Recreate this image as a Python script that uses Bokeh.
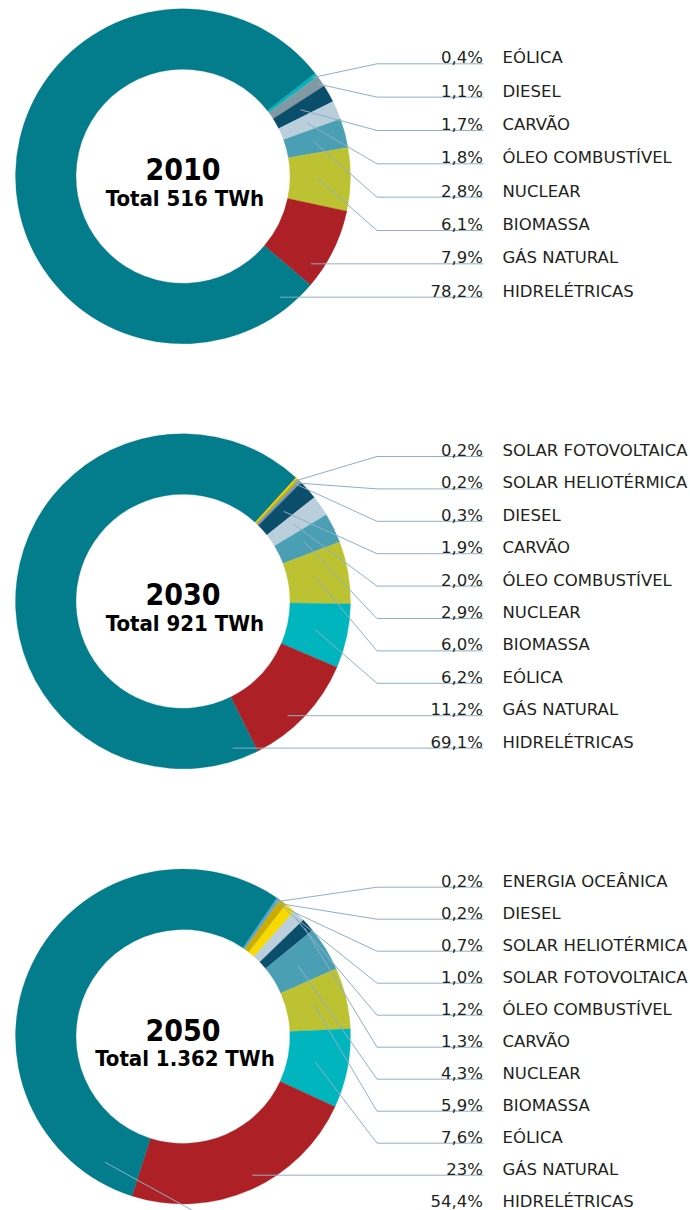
import math
from bokeh.plotting import figure
from bokeh.models import Range1d, ColumnDataSource
from bokeh.core.properties import value
from bokeh.embed import file_html
from bokeh.resources import INLINE

# ---------------- data ----------------
years = ["2010", "2030", "2050"]
totals = ["Total 516 TWh", "Total 921 TWh", "Total 1.362 TWh"]

labels_2010 = ["EÓLICA", "DIESEL", "CARVÃO", "ÓLEO COMBUSTÍVEL", "NUCLEAR",
               "BIOMASSA", "GÁS NATURAL", "HIDRELÉTRICAS"]
values_2010 = [0.4, 1.1, 1.7, 1.8, 2.8, 6.1, 7.9, 78.2]
pct_2010 = ["0,4%", "1,1%", "1,7%", "1,8%", "2,8%", "6,1%", "7,9%", "78,2%"]

labels_2030 = ["SOLAR FOTOVOLTAICA", "SOLAR HELIOTÉRMICA", "DIESEL", "CARVÃO",
               "ÓLEO COMBUSTÍVEL", "NUCLEAR", "BIOMASSA", "EÓLICA",
               "GÁS NATURAL", "HIDRELÉTRICAS"]
values_2030 = [0.2, 0.2, 0.3, 1.9, 2.0, 2.9, 6.0, 6.2, 11.2, 69.1]
pct_2030 = ["0,2%", "0,2%", "0,3%", "1,9%", "2,0%", "2,9%", "6,0%", "6,2%",
            "11,2%", "69,1%"]

labels_2050 = ["ENERGIA OCEÂNICA", "DIESEL", "SOLAR HELIOTÉRMICA",
               "SOLAR FOTOVOLTAICA", "ÓLEO COMBUSTÍVEL", "CARVÃO", "NUCLEAR",
               "BIOMASSA", "EÓLICA", "GÁS NATURAL", "HIDRELÉTRICAS"]
values_2050 = [0.2, 0.2, 0.7, 1.0, 1.2, 1.3, 4.3, 5.9, 7.6, 23, 54.4]
pct_2050 = ["0,2%", "0,2%", "0,7%", "1,0%", "1,2%", "1,3%", "4,3%", "5,9%",
            "7,6%", "23%", "54,4%"]

# ---------------- style ----------------
COLORS = {
    "HIDRELÉTRICAS": "#037c8b",
    "GÁS NATURAL": "#ad2126",
    "EÓLICA": "#00b5bd",
    "BIOMASSA": "#bdc233",
    "NUCLEAR": "#4a9fb4",
    "ÓLEO COMBUSTÍVEL": "#bacfdb",
    "CARVÃO": "#0b4e6b",
    "DIESEL": "#8099a3",
    "SOLAR FOTOVOLTAICA": "#f7d900",
    "SOLAR HELIOTÉRMICA": "#c9ad00",
    "ENERGIA OCEÂNICA": "#2bb0e2",
}
LINE_COLOR = "#8eb0c6"
TEXT_COLOR = "#231f20"
LABEL_FONT = value("DejaVu Sans")
TITLE_FONT = value("DejaVu Sans Condensed")

W, H = 690, 1210


def X(px):
    return px


def Y(py):
    return H - py


p = figure(width=W, height=H, x_range=Range1d(0, W), y_range=Range1d(0, H),
           output_backend="svg", toolbar_location=None, min_border=0,
           x_axis_location=None, y_axis_location=None)
p.grid.visible = False
p.outline_line_color = None
p.background_fill_color = "white"
p.border_fill_color = "white"

R_OUT = 167.5
R_IN = 107
END_X = 483
ELBOW_X = 376.5
PCT_X = 482.5
NAME_X = 502

charts = [
    dict(labels=labels_2010, values=values_2010, pct=pct_2010, year=years[0],
         total=totals[0], cx=182.5, cy=175.8, start=52.0, y0=63.3, step=33.34),
    dict(labels=labels_2030, values=values_2030, pct=pct_2030, year=years[1],
         total=totals[1], cx=182.5, cy=600.8, start=42.3, y0=456.0, step=32.4),
    dict(labels=labels_2050, values=values_2050, pct=pct_2050, year=years[2],
         total=totals[2], cx=182.5, cy=1036.0, start=34.0, y0=886.7, step=32.0),
]

for ch in charts:
    vals = ch["values"]
    tot = sum(vals)
    cx, cy = ch["cx"], ch["cy"]
    # angles clockwise from 12 o'clock
    edges = []
    a = ch["start"]
    for v in vals:
        b = a + v / tot * 360.0
        edges.append((a, b))
        a = b
    src = ColumnDataSource(dict(
        x=[X(cx)] * len(vals), y=[Y(cy)] * len(vals),
        start=[math.radians(90 - e[1]) for e in edges],
        end=[math.radians(90 - e[0]) for e in edges],
        color=[COLORS[l] for l in ch["labels"]],
    ))
    p.annular_wedge(x="x", y="y", inner_radius=R_IN, outer_radius=R_OUT,
                    start_angle="start", end_angle="end", direction="anticlock",
                    fill_color="color", line_color="color", line_width=0.3,
                    source=src)

    # leader lines
    xs, ys = [], []
    ty = []
    n = len(vals)
    for i, (v, (a0, a1)) in enumerate(zip(vals, edges)):
        ly = ch["y0"] + i * ch["step"]
        dy = ly - cy
        straight = None
        rt = 155.0
        if abs(dy) < rt:
            dx = math.sqrt(rt * rt - dy * dy)
            ang = math.degrees(math.atan2(dx, -dy)) % 360
            if a0 + 1 < ang < a1 - 1:
                straight = cx + dx
        if straight is not None:
            lx = [straight, END_X]
            lyy = [ly, ly]
        else:
            if i == n - 1:
                mid = a0 + 14
                r = 148
            else:
                mid = (a0 + a1) / 2
                r = 163 if v < 1.5 else 135
            ax = cx + r * math.sin(math.radians(mid))
            ay = cy - r * math.cos(math.radians(mid))
            if i == n - 1:
                ex = ax + (ly + 4 - ay) / 0.55
                ly_line = ly + 4
            else:
                ex = ELBOW_X
                ly_line = ly
            lx = [ax, ex, END_X]
            lyy = [ay, ly_line, ly_line]
        xs.append([X(q) for q in lx])
        ys.append([Y(q) for q in lyy])
        ty.append(Y(ly - 6))
    p.multi_line(xs=xs, ys=ys, line_color=LINE_COLOR, line_width=1)

    p.text(x=[X(PCT_X)] * n, y=ty, text=ch["pct"], text_align="right",
           text_baseline="alphabetic", text_font=LABEL_FONT,
           text_font_size="16.5px", text_color=TEXT_COLOR)
    p.text(x=[X(NAME_X)] * n, y=ty, text=ch["labels"], text_align="left",
           text_baseline="alphabetic", text_font=LABEL_FONT,
           text_font_size="16.5px", text_color=TEXT_COLOR)

    # centre texts
    p.text(x=[X(cx)], y=[Y(cy - 7)], text=[ch["year"]], text_align="center",
           text_baseline="alphabetic", text_font=TITLE_FONT,
           text_font_style="bold", text_font_size="30px", text_color="#000000")
    p.text(x=[X(cx + 2)], y=[Y(cy + 22)], text=[ch["total"]],
           text_align="center", text_baseline="alphabetic",
           text_font=TITLE_FONT, text_font_style="bold",
           text_font_size="22px", text_color="#000000")

open("out.html", "w").write(file_html(p, INLINE))
